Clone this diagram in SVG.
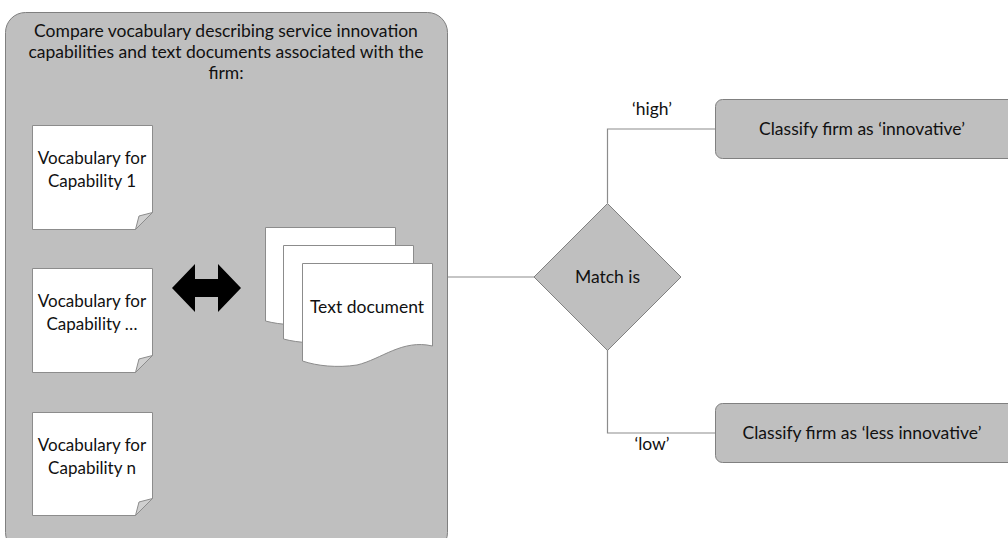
<svg xmlns="http://www.w3.org/2000/svg" width="1008" height="538" viewBox="0 0 1008 538">
  <style>
    text { font-family: Lato, "Open Sans", "Liberation Sans", sans-serif; font-size: 17.5px; fill: #111; text-anchor: middle; }
    .small { font-size: 17px; }
    .panel { fill: #bfbfbf; stroke: #7f7f7f; stroke-width: 1; }
    .note { fill: #ffffff; stroke: #8c8c8c; stroke-width: 1; }
    .fold { fill: #d0d0d0; stroke: #8c8c8c; stroke-width: 1; }
    .doc { fill: #ffffff; stroke: #8c8c8c; stroke-width: 1; }
    .box { fill: #bfbfbf; stroke: #808080; stroke-width: 1; }
    .wire { fill: none; stroke: #8c8c8c; stroke-width: 1.2; }
  </style>

  <!-- comparison panel -->
  <g id="compare-panel">
    <rect class="panel" x="5.5" y="12.5" width="442" height="540" rx="20" ry="20"/>
    <text x="226" y="37">Compare vocabulary describing service innovation</text>
    <text x="226" y="58">capabilities and text documents associated with the</text>
    <text x="226" y="79">firm:</text>
  </g>

  <g id="vocab-1">
    <path class="note" d="M32.5 125.5 H152.5 V212.5 L135.5 229.5 H32.5 Z"/>
    <path class="fold" d="M152.5 212.5 L135.5 229.5 L139 216 Z"/>
    <text class="small" x="92" y="164">Vocabulary for</text>
    <text class="small" x="92" y="187">Capability 1</text>
  </g>

  <g id="vocab-2">
    <path class="note" d="M32.5 268.5 H152.5 V355.5 L135.5 372.5 H32.5 Z"/>
    <path class="fold" d="M152.5 355.5 L135.5 372.5 L139 359 Z"/>
    <text class="small" x="92" y="307">Vocabulary for</text>
    <text class="small" x="92" y="330">Capability …</text>
  </g>

  <g id="vocab-n">
    <path class="note" d="M32.5 412.5 H152.5 V498.5 L135.5 515.5 H32.5 Z"/>
    <path class="fold" d="M152.5 498.5 L135.5 515.5 L139 502 Z"/>
    <text class="small" x="92" y="451">Vocabulary for</text>
    <text class="small" x="92" y="474">Capability n</text>
  </g>

  <!-- two-way comparison arrow -->
  <g id="double-arrow">
    <path d="M172 288 L195 264 V279 H218 V264 L241 288 L218 312 V297 H195 V312 Z" fill="#000"/>
  </g>

  <g id="text-documents">
    <path class="doc" d="M265.5 227.5 H395.5 V307 C365 300 345 318 320 323 C300 326 280 325 265.5 321 Z"/>
    <path class="doc" d="M283.5 245.5 H413.5 V325 C383 318 363 336 338 341 C318 344 298 343 283.5 339 Z"/>
    <path class="doc" d="M302.5 263.5 H432.5 V346 C402 339 382 359 357 365 C337 368 317 366 302.5 361 Z"/>
    <text x="367" y="313">Text document</text>
  </g>

  <!-- connectors -->
  <g id="connectors">
    <path class="wire" d="M448 277 H534"/>
    <path class="wire" d="M607.5 203 V129 H715"/>
    <path class="wire" d="M607.5 350 V433 H715"/>
  </g>

  <g id="decision">
    <path class="box" d="M607.5 203.5 L681 277 L607.5 350.5 L534 277 Z"/>
    <text x="607.5" y="283">Match is</text>
  </g>

  <g id="label-high">
    <text x="652" y="115">‘high’</text>
  </g>
  <g id="label-low">
    <text x="652" y="450">‘low’</text>
  </g>

  <g id="innovative">
    <rect class="box" x="715.5" y="99.5" width="300" height="59" rx="7" ry="7"/>
    <text x="862" y="135">Classify firm as ‘innovative’</text>
  </g>

  <g id="less-innovative">
    <rect class="box" x="715.5" y="403.5" width="300" height="59" rx="7" ry="7"/>
    <text x="862" y="439">Classify firm as ‘less innovative’</text>
  </g>
</svg>
